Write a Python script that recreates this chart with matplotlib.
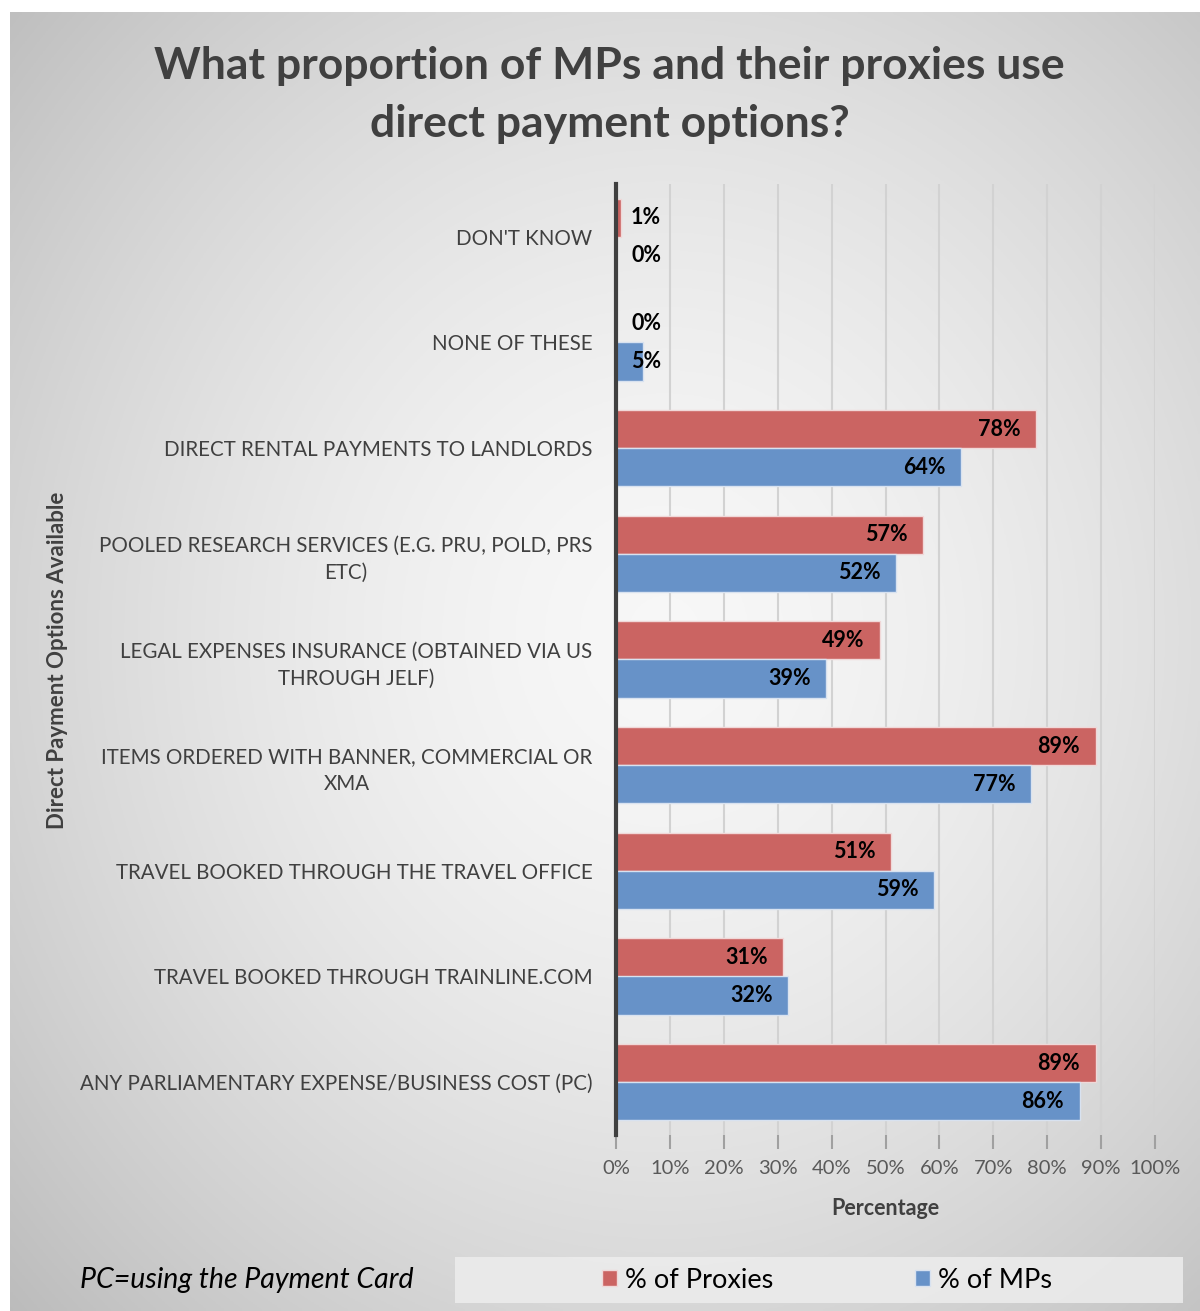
import numpy as np
import matplotlib.pyplot as plt
from matplotlib.patches import Rectangle, Patch

# ---------------------------------------------------------------
# Data (top to bottom as shown in chart)
# ---------------------------------------------------------------
categories = [
    "DON'T KNOW",
    "NONE OF THESE",
    "DIRECT RENTAL PAYMENTS TO LANDLORDS",
    "POOLED RESEARCH SERVICES (E.G. PRU, POLD, PRS\nETC)",
    "LEGAL EXPENSES INSURANCE (OBTAINED VIA US\nTHROUGH JELF)",
    "ITEMS ORDERED WITH BANNER, COMMERCIAL OR\nXMA",
    "TRAVEL BOOKED THROUGH THE TRAVEL OFFICE",
    "TRAVEL BOOKED THROUGH TRAINLINE.COM",
    "ANY PARLIAMENTARY EXPENSE/BUSINESS COST (PC)",
]
proxies = [1, 0, 78, 57, 49, 89, 51, 31, 89]
mps = [0, 5, 64, 52, 39, 77, 59, 32, 86]
series_names = ["% of Proxies", "% of MPs"]
x_ticks = list(range(0, 101, 10))

RED = "#CB6462"
BLUE = "#6792C8"
TEXT = "#404040"
FONT = "Lato"

W, H = 1200, 1311
fig = plt.figure(figsize=(W / 100, H / 100), dpi=100)
fig.patch.set_facecolor("white")

# radial gradient background
bg = fig.add_axes([10 / W, 0, 1 - 10 / W, 1 - 12 / H], zorder=-10)
yy, xx = np.mgrid[0:1:400j, 0:1:400j]
r = np.sqrt(((xx - 0.55) / 0.75) ** 2 + ((yy - 0.52) / 0.75) ** 2)
shade = 0.97 - 0.23 * np.clip(r, 0, 1.2) ** 1.6
bg.imshow(np.dstack([shade] * 3), extent=[0, 1, 0, 1], aspect="auto", origin="lower")
bg.axis("off")

# title
fig.text(0.508, 1 - 95 / H, "What proportion of MPs and their proxies use\ndirect payment options?",
         ha="center", va="center", fontsize=32, fontweight="bold", color=TEXT,
         family=FONT, linespacing=1.55)

ax = fig.add_axes([616 / W, 1 - 1135 / H, (1155 - 616) / W, (1135 - 184) / H])
ax.patch.set_alpha(0)

y = np.arange(len(categories))
h = 0.36
ax.barh(y - h / 2, proxies, height=h, color=RED, edgecolor="#f0d8d8", linewidth=1, zorder=3)
ax.barh(y + h / 2, mps, height=h, color=BLUE, edgecolor="#d8e2f0", linewidth=1, zorder=3)

for vals, off in ((proxies, -h / 2), (mps, h / 2)):
    for i, v in enumerate(vals):
        if v < 10:
            ax.text(2.8, i + off, f"{v}%", ha="left", va="center", fontsize=15.5,
                    fontweight="bold", color="black", family=FONT, zorder=4)
        else:
            ax.text(v - 2.9, i + off, f"{v}%", ha="right", va="center", fontsize=15.5,
                    fontweight="bold", color="black", family=FONT, zorder=4)

ax.set_xlim(0, 100)
ax.set_ylim(len(categories) - 0.5, -0.5)
ax.set_xticks(x_ticks)
ax.set_xticklabels([f"{t}%" for t in x_ticks], fontsize=14.5, color="#595959", family=FONT)
ax.set_yticks(y)
ax.set_yticklabels(categories, fontsize=14.8, color=TEXT, family=FONT,
                   multialignment="center", linespacing=1.45)
ax.tick_params(axis="y", length=0, pad=17)
ax.tick_params(axis="x", length=10, width=1.5, color="#A0A0A0", pad=8)
ax.grid(axis="x", color="#D2D2D2", linewidth=1.5, zorder=0)
for s in ("top", "right", "bottom"):
    ax.spines[s].set_visible(False)
ax.spines["left"].set_color(TEXT)
ax.spines["left"].set_linewidth(3)
ax.spines["left"].set_zorder(5)

ax.set_xlabel("Percentage", fontsize=15.5, fontweight="bold", color=TEXT, family=FONT, labelpad=15)
fig.text(58 / W, 1 - 660 / H, "Direct Payment Options Available", rotation=90,
         ha="center", va="center", fontsize=16, fontweight="bold", color=TEXT, family=FONT)

# footnote and legend
fig.text(80 / W, 1 - 1280 / H, "PC=using the Payment Card", ha="left", va="center",
         fontsize=20.5, style="italic", color="black", family=FONT)
fig.add_artist(Rectangle((455 / W, 1 - 1303 / H), 728 / W, 46 / H, transform=fig.transFigure,
                         facecolor="#EDEDED", edgecolor="none", alpha=0.85, zorder=1))
handles = [Patch(facecolor=RED, edgecolor="#f0d8d8"), Patch(facecolor=BLUE, edgecolor="#d8e2f0")]
fig.legend(handles, series_names, loc="center", bbox_to_anchor=(827 / W, 1 - 1280 / H),
           ncol=2, frameon=False, prop={"family": FONT, "size": 19.5},
           handlelength=0.55, handleheight=0.55, handletextpad=0.3, columnspacing=5.25)

fig.savefig("out.png", dpi=100)
